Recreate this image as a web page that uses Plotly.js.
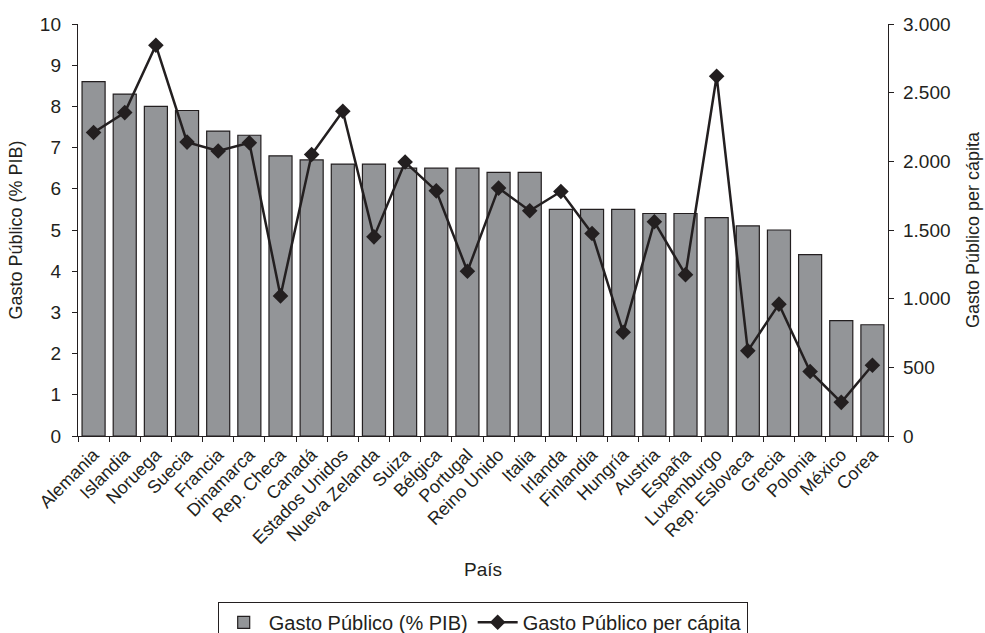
<!DOCTYPE html>
<html>
<head>
<meta charset="utf-8">
<script src="https://cdn.plot.ly/plotly-3.0.1.min.js"></script>
<style>
  html, body { margin: 0; padding: 0; background: #fff; }
  #chart { width: 985px; height: 633px; }
</style>
</head>
<body>
<div id="chart"></div>
<script>
// Countries, ordered by public spending as share of GDP
const paises = [
  "Alemania", "Islandia", "Noruega", "Suecia", "Francia", "Dinamarca",
  "Rep. Checa", "Canadá", "Estados Unidos", "Nueva Zelanda", "Suiza",
  "Bélgica", "Portugal", "Reino Unido", "Italia", "Irlanda", "Finlandia",
  "Hungría", "Austria", "España", "Luxemburgo", "Rep. Eslovaca", "Grecia",
  "Polonia", "México", "Corea"
];

// Public spending, % of GDP (left axis)
const gastoPIB = [
  8.6, 8.3, 8.0, 7.9, 7.4, 7.3, 6.8, 6.7, 6.6, 6.6, 6.5, 6.5, 6.5,
  6.4, 6.4, 5.5, 5.5, 5.5, 5.4, 5.4, 5.3, 5.1, 5.0, 4.4, 2.8, 2.7
];

// Public spending per capita (right axis)
const gastoPerCapita = [
  2210, 2355, 2845, 2140, 2075, 2135, 1020, 2050, 2365, 1450, 1995,
  1785, 1200, 1805, 1640, 1780, 1475, 755, 1560, 1175, 2620, 620,
  960, 470, 245, 515
];

const fontFamily = '"Liberation Sans", Arial, Helvetica, sans-serif';
const ink = '#231f20';

const traces = [
  {
    type: 'bar',
    name: 'Gasto Público (% PIB)',
    x: paises,
    y: gastoPIB,
    marker: { color: '#939598', line: { color: ink, width: 1.2 } },
    yaxis: 'y'
  },
  {
    type: 'scatter',
    mode: 'lines+markers',
    name: 'Gasto Público per cápita',
    x: paises,
    y: gastoPerCapita,
    line: { color: ink, width: 2.5 },
    marker: { symbol: 'diamond', size: 12, color: ink },
    yaxis: 'y2'
  }
];

const layout = {
  width: 985,
  height: 633,
  margin: { l: 78, r: 97, t: 24, b: 197, autoexpand: false },
  paper_bgcolor: '#fff',
  plot_bgcolor: '#fff',
  separators: ',.',
  font: { family: fontFamily, size: 18, color: ink },
  bargap: 0.26,
  showlegend: true,
  legend: {
    orientation: 'h',
    x: 0.5, xanchor: 'center',
    y: -0.402, yanchor: 'top',
    bordercolor: ink, borderwidth: 1.2,
    font: { size: 20 },
    itemwidth: 40,
    traceorder: 'normal'
  },
  xaxis: {
    type: 'category',
    range: [-0.5, paises.length - 0.5],
    tickangle: -45,
    tickson: 'boundaries',
    ticks: 'outside', ticklen: 5, tickcolor: ink,
    showline: true, linecolor: ink, linewidth: 1.2,
    showgrid: false,
    tickfont: { size: 18 },
    title: { text: 'País', font: { size: 19 }, standoff: 15 },
    automargin: false
  },
  yaxis: {
    range: [0, 10],
    dtick: 1,
    ticks: 'outside', ticklen: 5, tickcolor: ink,
    ticklabelstandoff: 7,
    showline: true, linecolor: ink, linewidth: 1.2,
    showgrid: false, zeroline: false,
    tickfont: { size: 19 },
    title: { text: 'Gasto Público (% PIB)', font: { size: 18 }, standoff: 12 },
    automargin: false
  },
  yaxis2: {
    overlaying: 'y',
    side: 'right',
    range: [0, 3000],
    dtick: 500,
    tickformat: ',d',
    ticks: 'outside', ticklen: 5, tickcolor: ink,
    ticklabelstandoff: 5,
    showline: true, linecolor: ink, linewidth: 1.2,
    showgrid: false, zeroline: false,
    tickfont: { size: 19 },
    title: { text: 'Gasto Público per cápita', font: { size: 18 }, standoff: 16 },
    automargin: false
  }
};

Plotly.newPlot('chart', traces, layout, { displayModeBar: false, staticPlot: true });
</script>
</body>
</html>
